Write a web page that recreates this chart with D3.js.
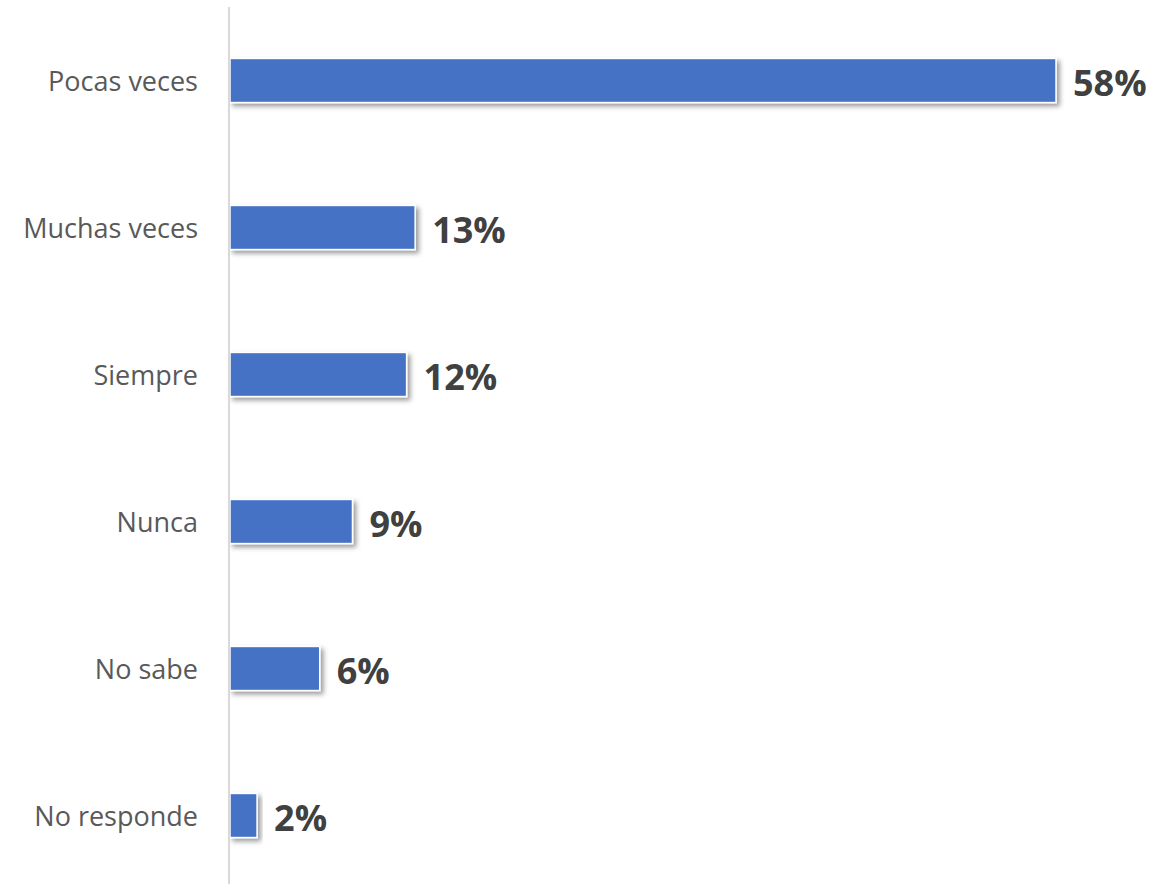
<!DOCTYPE html>
<html>
<head>
<meta charset="utf-8">
<script src="https://cdn.jsdelivr.net/npm/d3@7"></script>
<style>
  html, body { margin: 0; padding: 0; background: #ffffff; }
  svg { display: block; }
</style>
</head>
<body>
<svg id="chart" width="1158" height="886"></svg>
<script>
const categories = ["Pocas veces", "Muchas veces", "Siempre", "Nunca", "No sabe", "No responde"];
const values = [58.0, 13.0, 12.4, 8.6, 6.3, 1.9];
const valueLabels = ["58%", "13%", "12%", "9%", "6%", "2%"];

const svg = d3.select("#chart");

const x = d3.scaleLinear().domain([0, 60]).range([230, 230 + 826 / 58 * 60]);
const y = d3.scaleBand().domain(categories).range([7, 889]).paddingInner(0.7).paddingOuter(0.35);

const defs = svg.append("defs");
const f = defs.append("filter").attr("id", "shadow")
  .attr("x", "-10%").attr("y", "-30%").attr("width", "130%").attr("height", "180%");
f.append("feDropShadow").attr("dx", 3).attr("dy", 3).attr("stdDeviation", 2.5)
  .attr("flood-color", "#000").attr("flood-opacity", 0.4);

// bars
svg.append("g").selectAll("rect")
  .data(categories)
  .join("rect")
  .attr("x", x(0))
  .attr("y", d => y(d))
  .attr("width", (d, i) => x(values[i]) - x(0))
  .attr("height", y.bandwidth())
  .attr("fill", "#4472C4")
  .attr("stroke", "#ffffff")
  .attr("stroke-width", 1.5)
  .attr("filter", "url(#shadow)");

// axis line
svg.append("line")
  .attr("x1", 229).attr("x2", 229)
  .attr("y1", 7).attr("y2", 884)
  .attr("stroke", "#d9d9d9").attr("stroke-width", 2);

// category labels
svg.append("g").selectAll("text")
  .data(categories)
  .join("text")
  .attr("x", 198)
  .attr("y", d => y(d) + y.bandwidth() / 2)
  .attr("text-anchor", "end")
  .attr("dominant-baseline", "central")
  .attr("font-family", "'Open Sans', sans-serif")
  .attr("font-size", 27)
  .attr("fill", "#595959")
  .text(d => d);

// value labels
svg.append("g").selectAll("text")
  .data(categories)
  .join("text")
  .attr("x", (d, i) => x(values[i]) + 17)
  .attr("y", d => y(d) + y.bandwidth() / 2 + 2)
  .attr("dominant-baseline", "central")
  .attr("font-family", "'Open Sans', sans-serif")
  .attr("font-weight", "bold")
  .attr("font-size", 36)
  .attr("fill", "#404040")
  .text((d, i) => valueLabels[i]);
</script>
</body>
</html>
